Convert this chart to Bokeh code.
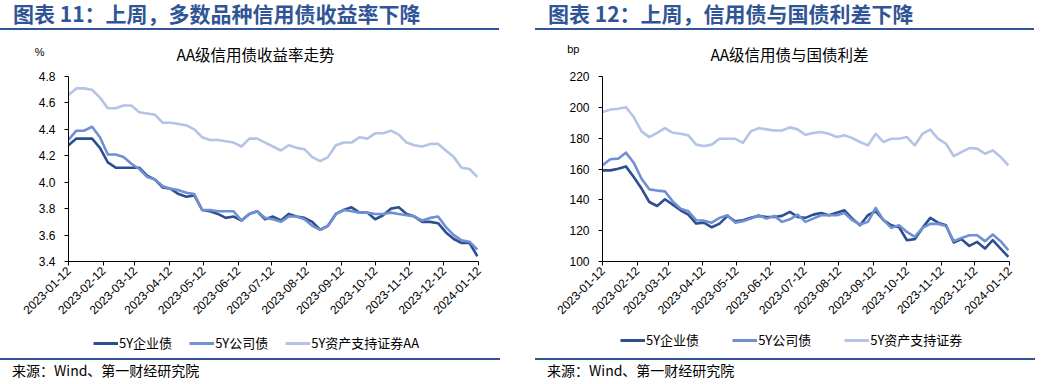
from math import pi
import pandas as pd
from bokeh.plotting import figure
from bokeh.models import (Range1d, FixedTicker, DatetimeTickFormatter, Label, Legend,
                          LegendItem, Div, Spacer, NumeralTickFormatter, LinearAxis,
                          CustomJSTickFormatter)
from bokeh.layouts import row, column
from bokeh.embed import file_html
from bokeh.resources import INLINE

# ---------------- data (weekly readings from the reference) ----------------
dates = pd.date_range("2023-01-12", periods=53, freq="7D")

tick_dates = ["2023-01-12", "2023-02-12", "2023-03-12", "2023-04-12", "2023-05-12",
              "2023-06-12", "2023-07-12", "2023-08-12", "2023-09-12", "2023-10-12",
              "2023-11-12", "2023-12-12", "2024-01-12"]

left_labels = ["5Y企业债", "5Y公司债", "5Y资产支持证券AA"]
right_labels = ["5Y企业债", "5Y公司债", "5Y资产支持证券"]

left_yticks = [3.4, 3.6, 3.8, 4.0, 4.2, 4.4, 4.6, 4.8]
right_yticks = [100, 120, 140, 160, 180, 200, 220]

# AA yields (%)
yield_enterprise = [4.28, 4.33, 4.33, 4.33, 4.26, 4.15, 4.11, 4.11, 4.11, 4.11,
                    4.05, 4.02, 3.96, 3.95, 3.91, 3.89, 3.90, 3.79, 3.78, 3.76,
                    3.73, 3.74, 3.71, 3.76, 3.78, 3.72, 3.74,
                    3.71, 3.76, 3.74, 3.73, 3.70, 3.64, 3.67, 3.76, 3.79, 3.81,
                    3.77, 3.77, 3.72, 3.75, 3.80, 3.81, 3.76, 3.74, 3.70, 3.70,
                    3.69, 3.62, 3.57, 3.54, 3.54, 3.44]
yield_company = [4.32, 4.39, 4.39, 4.42, 4.34, 4.21, 4.21, 4.19, 4.14, 4.10,
                 4.04, 4.02, 3.97, 3.95, 3.94, 3.92, 3.91, 3.79, 3.79, 3.78,
                 3.78, 3.78, 3.71, 3.76, 3.78, 3.73, 3.72,
                 3.70, 3.74, 3.74, 3.72, 3.67, 3.64, 3.67, 3.76, 3.79, 3.78,
                 3.77, 3.77, 3.76, 3.76, 3.77, 3.76, 3.75, 3.74, 3.71, 3.73,
                 3.74, 3.66, 3.60, 3.56, 3.55, 3.49]
yield_abs = [4.66, 4.71, 4.71, 4.70, 4.64, 4.56, 4.56, 4.58, 4.58, 4.53,
             4.52, 4.51, 4.45, 4.45, 4.44, 4.43, 4.40, 4.34, 4.32, 4.32,
             4.31, 4.30, 4.27, 4.33, 4.33, 4.30, 4.27,
             4.24, 4.28, 4.26, 4.25, 4.19, 4.16, 4.19, 4.28, 4.30, 4.30,
             4.34, 4.33, 4.37, 4.37, 4.39, 4.36, 4.30, 4.28, 4.27, 4.29,
             4.29, 4.24, 4.19, 4.11, 4.10, 4.04]

# spreads over government bonds (bp)
spread_enterprise = [159.1, 159.1, 160.2, 161.7, 154.8, 147.3, 138.6, 136.0, 140.4, 136.9,
                     133.2, 130.4, 124.6, 125.2, 122.2, 124.6, 129.6, 126.1, 126.8, 128.3,
                     129.6, 128.9, 128.9, 129.6, 132.2, 128.9, 128.3,
                     130.4, 131.5, 130.0, 131.7, 133.2, 127.8, 123.5, 130.0, 132.6, 126.8,
                     123.5, 122.2, 113.8, 114.5, 121.8, 128.3, 125.2, 123.5, 112.3, 114.5,
                     110.1, 112.7, 108.4, 113.8, 108.4, 103.0]
spread_company = [162.4, 166.3, 166.7, 170.6, 164.1, 153.7, 146.8, 146.0, 145.5, 139.0,
                  134.3, 132.6, 126.8, 126.5, 125.2, 128.3, 130.0, 125.2, 126.1, 127.8,
                  130.0, 127.8, 129.6, 125.7, 127.4, 130.4, 125.7,
                  127.8, 130.0, 130.0, 130.0, 131.5, 126.8, 124.0, 125.7, 134.8, 126.8,
                  121.8, 123.5, 119.2, 116.0, 121.8, 124.4, 124.4, 123.1, 113.2, 115.3,
                  117.0, 117.0, 113.2, 117.5, 113.2, 107.3]
spread_abs = [196.9, 198.6, 199.1, 200.1, 193.7, 184.4, 180.7, 183.5, 186.5, 183.5,
              182.9, 181.8, 175.8, 174.9, 175.8, 179.6, 179.6, 179.6, 177.0, 184.4,
              186.5, 185.7, 185.0, 185.0, 187.0, 185.7, 182.2,
              183.3, 184.0, 182.9, 180.7, 181.8, 180.1, 177.5, 175.3, 182.9, 177.5,
              179.6, 179.6, 180.7, 175.3, 182.9, 185.5, 179.6, 176.4, 168.4, 171.0,
              173.6, 173.2, 169.9, 172.1, 167.8, 162.4]

# ---------------- styling / layout constants ----------------
BLUE = "#2F5597"
COLORS = ["#2C4F8F", "#7090D2", "#B4C4E6"]
LINE_W = 2.6
CJK = "Noto Sans CJK SC"
NUM = "Liberation Sans"
FMT = "%Y-%m-%d"
x_ms = [d.value // 10**6 for d in dates]
tick_ms = [pd.Timestamp(d).value // 10**6 for d in tick_dates]

PANEL_W = 512
PLOT_H = 185      # pixel height between lowest and highest y tick
EXTRA_TOP = 36    # frame extends this far above the top tick (room for chart title)
AXIS_BOTTOM = 60  # space under the frame for the rotated date labels
LEGEND_H = 37


def make_figure(series, yticks, yfmt, chart_title, unit, unit_px_above,
                unit_standoff, border_left, frame_w, title_px_x):
    ylo, yhi = yticks[0], yticks[-1]
    ppu = PLOT_H / (yhi - ylo)
    y_top = yhi + EXTRA_TOP / ppu
    p = figure(frame_width=frame_w, frame_height=PLOT_H + EXTRA_TOP, x_axis_type="datetime",
               x_range=Range1d(tick_ms[0], tick_ms[-1]),
               y_range=Range1d(ylo, y_top),
               output_backend="svg", toolbar_location=None,
               min_border_left=border_left,
               min_border_right=PANEL_W - border_left - frame_w,
               min_border_top=8, min_border_bottom=AXIS_BOTTOM, margin=0)
    p.grid.visible = False
    p.outline_line_color = None
    p.background_fill_color = "white"

    for vals, col in zip(series, COLORS):
        p.line(x_ms, vals, line_color=col, line_width=LINE_W, line_join="round")

    xa = p.xaxis[0]
    xa.ticker = FixedTicker(ticks=tick_ms)
    xa.formatter = DatetimeTickFormatter(milliseconds=FMT, seconds=FMT, minsec=FMT,
                                         minutes=FMT, hourmin=FMT, hours=FMT,
                                         days=FMT, months=FMT, years=FMT)
    xa.major_label_orientation = pi / 4
    xa.major_label_text_font = NUM
    xa.major_label_text_font_size = "12px"
    xa.major_label_text_color = "#000000"
    xa.major_tick_out = 4
    xa.major_tick_in = 0
    xa.minor_tick_line_color = None
    xa.axis_line_color = "#000000"
    xa.major_tick_line_color = "#000000"
    xa.major_label_standoff = 3

    ya = p.yaxis[0]
    ya.ticker = FixedTicker(ticks=yticks)
    ya.formatter = NumeralTickFormatter(format=yfmt)
    ya.bounds = (ylo, yhi)
    ya.major_label_text_font = NUM
    ya.major_label_text_font_size = "12px"
    ya.major_label_text_color = "#000000"
    ya.major_tick_out = 4
    ya.major_tick_in = 0
    ya.minor_tick_line_color = None
    ya.axis_line_color = "#000000"
    ya.major_tick_line_color = "#000000"
    ya.major_label_standoff = 9

    # unit label ("%" / "bp") as a second, line-less axis with one tick above the top tick
    unit_axis = LinearAxis(ticker=FixedTicker(ticks=[yhi + unit_px_above / ppu]),
                           formatter=CustomJSTickFormatter(code=f"return '{unit}';"),
                           axis_line_color=None, major_tick_line_color=None,
                           minor_tick_line_color=None, major_tick_out=0, major_tick_in=0,
                           major_label_standoff=unit_standoff,
                           major_label_text_font=NUM, major_label_text_font_size="11px",
                           major_label_text_color="#000000")
    p.add_layout(unit_axis, "left")

    # chart title inside the (extended) frame, in data units
    x_title = tick_ms[0] + (title_px_x / frame_w) * (tick_ms[-1] - tick_ms[0])
    p.add_layout(Label(x=x_title, y=yhi + 23 / ppu, text=chart_title,
                       text_font=CJK, text_font_size="15.5px",
                       text_color="#000000", text_align="center",
                       text_baseline="middle"))
    return p


def legend_figure(series, labels, spacing, loc):
    # the same series, drawn out of view: only their legend entries show
    q = figure(frame_width=PANEL_W, frame_height=LEGEND_H,
               x_range=Range1d(0, 1), y_range=Range1d(0, 1),
               x_axis_location=None, y_axis_location=None,
               output_backend="svg", toolbar_location=None,
               min_border=0, margin=0)
    q.grid.visible = False
    q.outline_line_color = None
    rs = [q.line(x_ms, vals, line_color=c, line_width=LINE_W + 0.4)
          for vals, c in zip(series, COLORS)]
    legend = Legend(items=[LegendItem(label=l, renderers=[r]) for l, r in zip(labels, rs)],
                    orientation="horizontal", location=loc,
                    label_text_font=CJK, label_text_font_size="13px",
                    label_text_color="#000000",
                    glyph_width=25, glyph_height=12, spacing=spacing,
                    label_standoff=1, border_line_color=None,
                    background_fill_alpha=0, padding=0, margin=0)
    q.add_layout(legend)
    return q


def title_div(text, w):
    html = (f'<div style="width:{w - 13}px;height:30px;border-bottom:2px solid {BLUE};'
            f'font-family:\'{CJK}\';font-weight:bold;font-size:21px;line-height:26px;'
            f'color:{BLUE};padding-left:13px;white-space:nowrap;overflow:visible;">{text}</div>')
    return Div(text=html, width=w, height=32, margin=0)


def source_div(text, w):
    html = (f'<div style="width:{w - 12}px;height:24px;border-top:2px solid {BLUE};'
            f'font-family:\'{CJK}\';font-size:14px;line-height:21px;color:#000000;'
            f'padding-left:12px;white-space:nowrap;">{text}</div>')
    return Div(text=html, width=w, height=26, margin=0)


left_series = [yield_enterprise, yield_company, yield_abs]
right_series = [spread_enterprise, spread_company, spread_abs]

left_fig = make_figure(left_series, left_yticks, "0.0", "AA级信用债收益率走势", "%", 25, -9,
                       68, 410, 187)
right_fig = make_figure(right_series, right_yticks, "0", "AA级信用债与国债利差", "bp", 28, -13,
                        67, 407, 187)

left_leg = legend_figure(left_series, left_labels, 17, (93, 6))
right_leg = legend_figure(right_series, right_labels, 33, (85, 9))

left_col = column(title_div("图表 11：上周，多数品种信用债收益率下降", PANEL_W), left_fig, left_leg,
                  source_div("来源：Wind、第一财经研究院", PANEL_W), spacing=0, margin=0)
right_col = column(title_div("图表 12：上周，信用债与国债利差下降", PANEL_W), right_fig, right_leg,
                   source_div("来源：Wind、第一财经研究院", PANEL_W), spacing=0, margin=0)

layout = row(left_col, Spacer(width=23, height=10, margin=0), right_col, spacing=0, margin=0)

open("out.html", "w").write(file_html(layout, INLINE))
